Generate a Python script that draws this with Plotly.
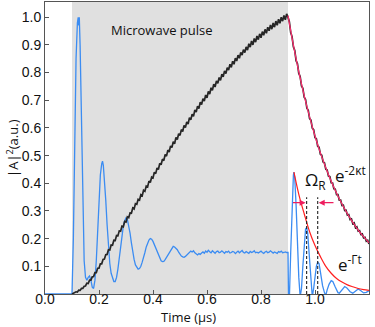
import numpy as np
import plotly.graph_objects as go

# ── Data ──────────────────────────────────────────────────────────────────────
PULSE = [0.1, 0.9]  # microwave pulse on/off (µs)

# cavity intensity |A|^2, sampled every 5 ns from 0.100 to 1.200 µs (noisy trace)
CAV_T0, CAV_DT = 0.10, 0.005
CAV_Y = [
    0.000, 0.003, 0.003, 0.008, 0.007, 0.014, 0.013, 0.020, 0.020, 0.028,
    0.029, 0.039, 0.038, 0.050, 0.050, 0.062, 0.063, 0.077, 0.077, 0.093,
    0.093, 0.109, 0.109, 0.125, 0.126, 0.142, 0.143, 0.160, 0.159, 0.177,
    0.176, 0.194, 0.193, 0.211, 0.210, 0.228, 0.227, 0.245, 0.243, 0.262,
    0.260, 0.279, 0.276, 0.293, 0.292, 0.311, 0.307, 0.326, 0.324, 0.342,
    0.339, 0.359, 0.355, 0.375, 0.371, 0.390, 0.387, 0.408, 0.403, 0.422,
    0.419, 0.440, 0.435, 0.455, 0.450, 0.472, 0.467, 0.487, 0.482, 0.504,
    0.498, 0.520, 0.513, 0.535, 0.529, 0.550, 0.543, 0.566, 0.558, 0.579,
    0.573, 0.594, 0.587, 0.609, 0.601, 0.622, 0.614, 0.637, 0.629, 0.650,
    0.642, 0.665, 0.657, 0.679, 0.670, 0.693, 0.684, 0.706, 0.697, 0.719,
    0.709, 0.732, 0.722, 0.745, 0.736, 0.758, 0.748, 0.770, 0.761, 0.782,
    0.772, 0.794, 0.785, 0.806, 0.796, 0.818, 0.809, 0.830, 0.819, 0.841,
    0.830, 0.852, 0.842, 0.863, 0.852, 0.873, 0.863, 0.883, 0.872, 0.893,
    0.881, 0.904, 0.892, 0.914, 0.900, 0.923, 0.910, 0.932, 0.919, 0.940,
    0.926, 0.948, 0.935, 0.956, 0.942, 0.964, 0.951, 0.972, 0.957, 0.979,
    0.964, 0.986, 0.971, 0.993, 0.978, 1.000, 0.986, 1.006, 0.991, 1.012,
    1.000,
    0.984, 0.945, 0.930, 0.893, 0.880, 0.843, 0.832, 0.797, 0.786, 0.752,
    0.743, 0.711, 0.703, 0.671, 0.664, 0.634, 0.628, 0.599, 0.594, 0.565,
    0.561, 0.534, 0.530, 0.505, 0.501, 0.477, 0.474, 0.451, 0.448, 0.426,
    0.424, 0.402, 0.401, 0.380, 0.379, 0.359, 0.359, 0.339, 0.339, 0.320,
    0.321, 0.302, 0.303, 0.285, 0.287, 0.269, 0.271, 0.254, 0.257, 0.240,
    0.243, 0.227, 0.229, 0.215, 0.217, 0.203, 0.205, 0.191, 0.194, 0.181,
]

# exp(-2kt) fit after the pulse
FIT_T = [0.90, 0.92, 0.94, 0.96, 0.98, 1.00, 1.02, 1.04, 1.06, 1.08, 1.10,
         1.12, 1.14, 1.16, 1.18, 1.20]
FIT_Y = [1.006, 0.899, 0.803, 0.717, 0.640, 0.571, 0.510, 0.456, 0.407, 0.364,
         0.325, 0.290, 0.259, 0.231, 0.207, 0.185]

# spin-ensemble signal, transient part during the pulse
SPIN_T_A = [0.0, 0.095, 0.1, 0.105, 0.11, 0.115, 0.12, 0.123, 0.125, 0.127,
            0.13, 0.135, 0.14, 0.145, 0.15, 0.155, 0.16, 0.165, 0.17, 0.175,
            0.18, 0.185, 0.19, 0.195, 0.2, 0.205, 0.21, 0.213, 0.216, 0.22,
            0.225, 0.23, 0.235, 0.24, 0.245, 0.25, 0.255, 0.26, 0.265, 0.27,
            0.275, 0.28, 0.285, 0.29, 0.295, 0.3, 0.305, 0.31, 0.315, 0.32,
            0.325, 0.33, 0.335, 0.34, 0.345, 0.35, 0.355, 0.36, 0.365, 0.37,
            0.375, 0.38, 0.385, 0.39, 0.395, 0.4, 0.405, 0.41, 0.415, 0.42,
            0.425, 0.43, 0.435, 0.44, 0.445, 0.45, 0.455, 0.46, 0.465, 0.47,
            0.475, 0.48, 0.485, 0.49, 0.495, 0.5, 0.505, 0.51, 0.515, 0.52,
            0.525, 0.53, 0.535, 0.54]
SPIN_Y_A = [0.0, 0.0, 0.0, 0.2, 0.55, 0.85, 0.98, 1.0, 0.97, 1.0,
            0.9, 0.6, 0.3, 0.12, 0.06, 0.05, 0.06, 0.065, 0.05, 0.025,
            0.02, 0.05, 0.12, 0.23, 0.34, 0.43, 0.47, 0.48, 0.465, 0.42,
            0.34, 0.25, 0.17, 0.11, 0.075, 0.055, 0.045, 0.045, 0.06, 0.09,
            0.13, 0.17, 0.21, 0.245, 0.265, 0.275, 0.27, 0.25, 0.22, 0.185,
            0.15, 0.125, 0.105, 0.095, 0.09, 0.092, 0.1, 0.115, 0.13, 0.15,
            0.17, 0.185, 0.195, 0.2, 0.198, 0.19, 0.178, 0.165, 0.15, 0.137,
            0.127, 0.12, 0.117, 0.118, 0.124, 0.132, 0.142, 0.152, 0.16, 0.167,
            0.172, 0.17, 0.166, 0.16, 0.151, 0.143, 0.137, 0.134, 0.133, 0.136,
            0.14, 0.145, 0.15, 0.155]

# steady-state plateau, every 5 ns from 0.545 µs
SPIN_T0_B, SPIN_DT_B = 0.545, 0.005
SPIN_Y_B = [
    0.152, 0.156, 0.149, 0.145, 0.141, 0.146, 0.143, 0.148, 0.152, 0.147,
    0.155, 0.151, 0.158, 0.153, 0.149, 0.156, 0.151, 0.147, 0.153, 0.155,
    0.149, 0.151, 0.156, 0.150, 0.147, 0.153, 0.151, 0.155, 0.148, 0.150,
    0.154, 0.152, 0.146, 0.151, 0.155, 0.149, 0.152, 0.157, 0.150, 0.148,
    0.153, 0.151, 0.147, 0.154, 0.150, 0.152, 0.156, 0.149, 0.151, 0.148,
    0.153, 0.155, 0.150, 0.147, 0.152, 0.154, 0.149, 0.151, 0.156, 0.150,
    0.148, 0.152, 0.150, 0.147, 0.153, 0.151, 0.155, 0.149, 0.150, 0.152,
    0.150,
]

# free ring-down after the pulse
SPIN_T_C = [0.9, 0.902, 0.905, 0.91, 0.915, 0.92, 0.922, 0.925, 0.93, 0.935,
            0.94, 0.945, 0.95, 0.955, 0.96, 0.965, 0.969, 0.973, 0.978, 0.984,
            0.99, 0.995, 1.0, 1.005, 1.01, 1.015, 1.02, 1.028, 1.035, 1.04,
            1.045, 1.052, 1.06, 1.066, 1.075, 1.085, 1.09, 1.1, 1.11, 1.118,
            1.13, 1.14, 1.15, 1.16, 1.17, 1.18, 1.19, 1.2]
SPIN_Y_C = [0.15, -0.02, -0.02, 0.15, 0.33, 0.43, 0.44, 0.42, 0.32, 0.18,
            0.06, -0.01, 0.02, 0.1, 0.19, 0.235, 0.24, 0.22, 0.15, 0.06,
            -0.01, 0.02, 0.06, 0.1, 0.115, 0.11, 0.08, 0.03, 0.005, -0.005,
            0.015, 0.035, 0.048, 0.045, 0.025, 0.005, 0.003, 0.015, 0.027, 0.022,
            0.008, 0.003, 0.01, 0.018, 0.012, 0.004, 0.006, 0.012]

# exp(-Gt) envelope of the ring-down
ENV_T = [0.922, 0.94, 0.96, 0.98, 1.0, 1.02, 1.04, 1.06, 1.08, 1.1, 1.12,
         1.14, 1.16, 1.18, 1.2]
ENV_Y = [0.44, 0.36, 0.29, 0.225, 0.175, 0.135, 0.1, 0.075, 0.056, 0.043,
         0.033, 0.026, 0.02, 0.016, 0.013]

# Rabi period markers
OMEGA_T = [0.969, 1.010]
OMEGA_TOP = 0.35
ARROW_Y = 0.33
ARROW_TAILS = [0.913, 1.074]

X_TICKS = [0.0, 0.2, 0.4, 0.6, 0.8, 1.0]
Y_TICKS = [0.1, 0.2, 0.3, 0.4, 0.5, 0.6, 0.7, 0.8, 0.9, 1.0]

# ── Styles ────────────────────────────────────────────────────────────────────
BLUE = "#3b8cf2"
BLACK = "#262626"
FIT_RED = "#ff2d6f"
ENV_RED = "#ff1f1f"
ARROW = "#ee1d5e"
GRAY = "#e0e0e0"
TXT = "Open Sans"
TICK = "Liberation Sans"

cav_t = CAV_T0 + CAV_DT * np.arange(len(CAV_Y))
spin_t = np.concatenate([SPIN_T_A,
                         SPIN_T0_B + SPIN_DT_B * np.arange(len(SPIN_Y_B)),
                         SPIN_T_C])
spin_y = np.concatenate([SPIN_Y_A, SPIN_Y_B, SPIN_Y_C])

fig = go.Figure()
fig.add_shape(type="rect", xref="x", yref="paper", x0=PULSE[0], x1=PULSE[1],
              y0=0, y1=1, fillcolor=GRAY, line_width=0, layer="below")

fig.add_trace(go.Scatter(x=spin_t, y=spin_y, mode="lines",
                         line=dict(color=BLUE, width=1.3)))
fig.add_trace(go.Scatter(x=cav_t, y=CAV_Y, mode="lines",
                         line=dict(color=BLACK, width=1.7)))
fig.add_trace(go.Scatter(x=FIT_T, y=FIT_Y, mode="lines", line_shape="spline",
                         line=dict(color=FIT_RED, width=1.2)))
fig.add_trace(go.Scatter(x=ENV_T, y=ENV_Y, mode="lines", line_shape="spline",
                         line=dict(color=ENV_RED, width=1.2)))
for t in OMEGA_T:
    fig.add_trace(go.Scatter(x=[t, t], y=[0, OMEGA_TOP], mode="lines",
                             line=dict(color="#222", width=1.1, dash="3px,2px")))

# arrows pointing at the dashed lines
for tail, head in zip(ARROW_TAILS, OMEGA_T):
    fig.add_annotation(x=head, y=ARROW_Y, ax=tail, ay=ARROW_Y, axref="x", ayref="y",
                       xref="x", yref="y", text="", showarrow=True,
                       arrowhead=2, arrowsize=1, arrowwidth=1.2, arrowcolor=ARROW,
                       standoff=1)

fig.add_annotation(x=0.433, y=0.955, text="Microwave pulse", showarrow=False,
                   font=dict(family=TXT, size=13, color="#111"))
fig.add_annotation(x=1.0, y=0.41, text="Ω<sub>R</sub>", showarrow=False,
                   font=dict(family=TXT, size=17, color="#111"))
fig.add_annotation(x=1.133, y=0.43, text="e<sup>-2κt</sup>", showarrow=False,
                   font=dict(family=TXT, size=17, color="#111"))
fig.add_annotation(x=1.128, y=0.11, text="e<sup>-Γt</sup>", showarrow=False,
                   font=dict(family=TXT, size=17, color="#111"))
fig.add_annotation(x=0.533, y=-0.078, xref="x", yref="paper", text="Time (µs)",
                   xanchor="center", yanchor="middle",
                   showarrow=False, font=dict(family=TXT, size=13, color="#111"))
fig.add_annotation(x=-0.102, y=0.5, xref="paper", yref="paper",
                   text="|A|<sup>2</sup>(a.u.)", textangle=-90,
                   xanchor="center", yanchor="middle", showarrow=False,
                   font=dict(family=TXT, size=13, color="#111"))

fig.update_layout(
    width=375, height=327,
    margin=dict(l=45, r=6, t=2, b=33),
    plot_bgcolor="white", paper_bgcolor="white",
    showlegend=False,
    font=dict(family=TICK, size=14, color="#111"),
)
fig.update_xaxes(range=[0, 1.2], tickvals=X_TICKS,
                 ticktext=[f"{v:.1f}" for v in X_TICKS],
                 showgrid=False, zeroline=False, showline=True, mirror=True,
                 linecolor="#555", linewidth=1, ticks="inside", ticklen=4,
                 tickcolor="#555", ticklabelstandoff=-8)
fig.update_yaxes(range=[0, 1.055], tickvals=Y_TICKS,
                 ticktext=[f"{v:.1f}" for v in Y_TICKS],
                 showgrid=False, zeroline=False, showline=True, mirror=True,
                 linecolor="#555", linewidth=1, ticks="inside", ticklen=4,
                 tickcolor="#555")

# the page body has a default 8px margin; drop it so the figure sits at 0,0
fig.write_html("out.html", config={"displayModeBar": False},
               post_script="document.body.style.margin='0px';")
